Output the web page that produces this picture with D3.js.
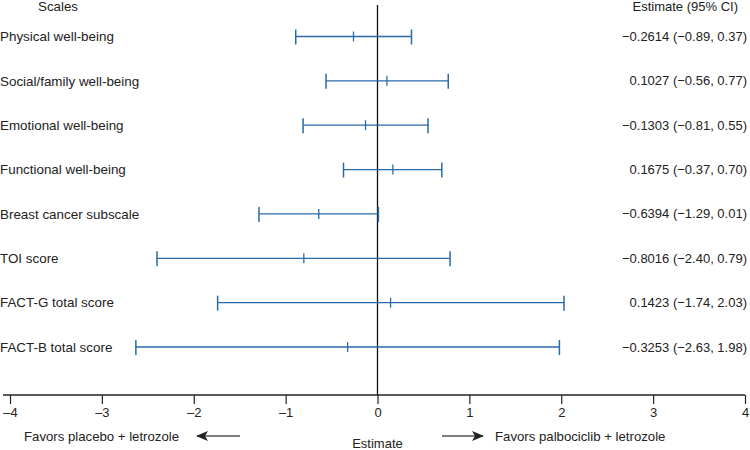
<!DOCTYPE html>
<html>
<head>
<meta charset="utf-8">
<script src="https://cdn.jsdelivr.net/npm/d3@7"></script>
<style>
  body { margin: 0; background: #fff; }
  text { font-family: "Liberation Sans", Arial, sans-serif; fill: #222; }
</style>
</head>
<body>
<svg id="chart" width="750" height="450"></svg>
<script>
// forest plot data
var scales = ['Physical well-being', 'Social/family well-being', 'Emotional well-being',
  'Functional well-being', 'Breast cancer subscale', 'TOI score',
  'FACT-G total score', 'FACT-B total score'];
var estimates = [-0.2614, 0.1027, -0.1303, 0.1675, -0.6394, -0.8016, 0.1423, -0.3253];
var lower = [-0.89, -0.56, -0.81, -0.37, -1.29, -2.40, -1.74, -2.63];
var upper = [0.37, 0.77, 0.55, 0.70, 0.01, 0.79, 2.03, 1.98];
var ticks = [-4, -3, -2, -1, 0, 1, 2, 3, 4];

var svg = d3.select('#chart');
var blue = '#2a6aa8';

var x = d3.scaleLinear().domain([-4, 4]).range([10, 745]);
var y = d3.scalePoint().domain(scales).range([36.5, 347]);
var axisY = 395;

var fmt = function(v) { return d3.format('.2f')(v).replace('-', '\u2013'); };
var fmtEst = function(v) { return d3.format('.4f')(v).replace('-', '\u2013'); };

// headers
svg.append('text').attr('x', 58).attr('y', 11).attr('text-anchor', 'middle')
  .style('font-size', '13.3px').text('Scales');
svg.append('text').attr('x', 738).attr('y', 11).attr('text-anchor', 'end')
  .style('font-size', '13px').text('Estimate (95% CI)');

// zero reference line
svg.append('line')
  .attr('x1', x(0)).attr('x2', x(0)).attr('y1', 5).attr('y2', axisY)
  .attr('stroke', '#111').attr('stroke-width', 1.3);

var rows = svg.selectAll('.row').data(scales).enter().append('g').attr('class', 'row');

rows.append('text')
  .attr('x', 0).attr('y', function(d) { return y(d); }).attr('dy', '0.35em')
  .style('font-size', '13.4px').text(function(d) { return d; });

rows.append('text')
  .attr('x', 747).attr('y', function(d) { return y(d); }).attr('dy', '0.35em')
  .attr('text-anchor', 'end').style('font-size', '13px')
  .text(function(d, i) { return fmtEst(estimates[i]) + ' (' + fmt(lower[i]) + ', ' + fmt(upper[i]) + ')'; });

// CI line
rows.append('line')
  .attr('x1', function(d, i) { return x(lower[i]); })
  .attr('x2', function(d, i) { return x(upper[i]); })
  .attr('y1', function(d) { return y(d); }).attr('y2', function(d) { return y(d); })
  .attr('stroke', blue).attr('stroke-width', 1.3);

// caps
[lower, upper].forEach(function(arr) {
  rows.append('line')
    .attr('x1', function(d, i) { return x(arr[i]); })
    .attr('x2', function(d, i) { return x(arr[i]); })
    .attr('y1', function(d) { return y(d) - 7; }).attr('y2', function(d) { return y(d) + 8; })
    .attr('stroke', blue).attr('stroke-width', 1.5);
});

// estimate mark
rows.append('line')
  .attr('x1', function(d, i) { return x(estimates[i]); })
  .attr('x2', function(d, i) { return x(estimates[i]); })
  .attr('y1', function(d) { return y(d) - 5; }).attr('y2', function(d) { return y(d) + 5; })
  .attr('stroke', blue).attr('stroke-width', 1.3);

// x axis
var xAxis = d3.axisBottom(x).tickValues(ticks).tickSize(9).tickPadding(4)
  .tickFormat(function(d) { return String(d).replace('-', '\u2013'); });
var gx = svg.append('g').attr('transform', 'translate(0,' + axisY + ')').call(xAxis);
gx.select('.domain').attr('d', 'M3,0H745').attr('stroke', '#222').attr('stroke-width', 1.3);
gx.selectAll('.tick line').attr('stroke', '#222').attr('stroke-width', 1.2);
gx.selectAll('.tick text').style('font-size', '13px').style('font-family', '"Liberation Sans", Arial, sans-serif').attr('fill', '#222');

// direction annotations
svg.append('defs').append('marker')
  .attr('id', 'head').attr('viewBox', '0 0 12 10').attr('refX', 11).attr('refY', 5)
  .attr('markerUnits', 'userSpaceOnUse')
  .attr('markerWidth', 12).attr('markerHeight', 10).attr('orient', 'auto')
  .append('path').attr('d', 'M0,0L12,5L0,10L3,5Z').attr('fill', '#222');

svg.append('text').attr('x', 24).attr('y', 436).attr('dy', '0.35em')
  .style('font-size', '13.2px').text('Favors placebo + letrozole');
svg.append('line').attr('x1', 240).attr('x2', 197).attr('y1', 436).attr('y2', 436)
  .attr('stroke', '#555').attr('stroke-width', 1.4).attr('marker-end', 'url(#head)');

svg.append('line').attr('x1', 442).attr('x2', 483).attr('y1', 436).attr('y2', 436)
  .attr('stroke', '#555').attr('stroke-width', 1.4).attr('marker-end', 'url(#head)');
svg.append('text').attr('x', 495).attr('y', 436).attr('dy', '0.35em')
  .style('font-size', '13.2px').text('Favors palbociclib + letrozole');

svg.append('text').attr('x', x(0)).attr('y', 443).attr('dy', '0.35em')
  .attr('text-anchor', 'middle').style('font-size', '13px').text('Estimate');
</script>
</body>
</html>
